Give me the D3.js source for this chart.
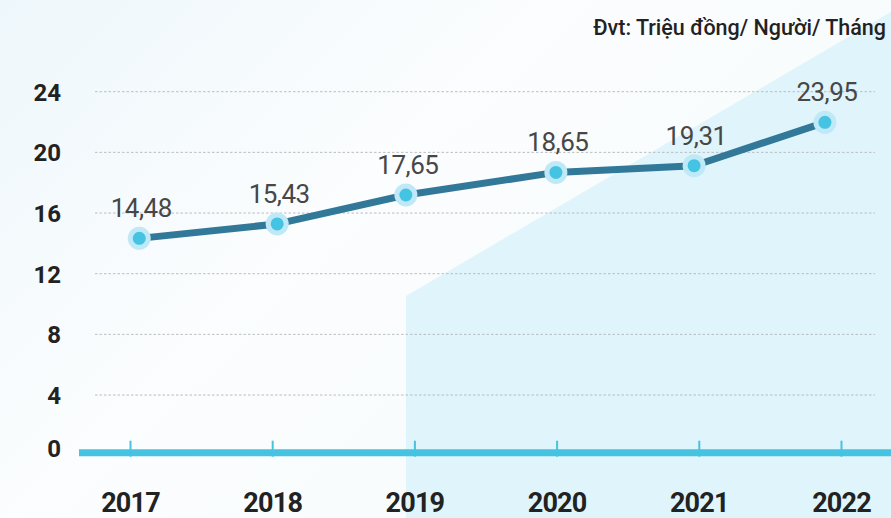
<!DOCTYPE html>
<html>
<head>
<meta charset="utf-8">
<script src="https://cdn.jsdelivr.net/npm/d3@7"></script>
<style>
  html, body { margin: 0; padding: 0; background: #ffffff; }
  svg { display: block; font-family: Roboto, "Noto Sans", sans-serif; }
</style>
</head>
<body>
<svg id="chart" width="891" height="518"></svg>
<script>
// ---- data ----
const years = [2017, 2018, 2019, 2020, 2021, 2022];
// where each marker sits along the year axis (as drawn in the picture)
const pointYears = [2017.065, 2018.035, 2018.94, 2019.995, 2020.967, 2021.887];
// plotted marker heights
const values = [14.33, 15.28, 17.19, 18.68, 19.12, 21.98];
// printed value labels
const valueLabels = ["14,48", "15,43", "17,65", "18,65", "19,31", "23,95"];
const yTicks = [0, 4, 8, 12, 16, 20, 24];
const unitText = "Đvt: Triệu đồng/ Người/ Tháng";

// ---- layout ----
const W = 891, H = 518;
const svg = d3.select("#chart");

const x = d3.scaleLinear().domain([2017, 2022]).range([130, 841]);
const y = d3.scaleLinear().domain([0, 24]).range([455.7, 91.7]);

// background
const defs = svg.append("defs");
const bg = defs.append("linearGradient").attr("id", "bg")
  .attr("x1", "0").attr("y1", "0").attr("x2", "1").attr("y2", "0.6");
bg.append("stop").attr("offset", "0").attr("stop-color", "#eef7fb");
bg.append("stop").attr("offset", "0.45").attr("stop-color", "#fbfdfe");
bg.append("stop").attr("offset", "1").attr("stop-color", "#f7fbfd");
svg.append("rect").attr("width", W).attr("height", H).attr("fill", "url(#bg)");

// light blue diagonal panel
svg.append("path")
  .attr("d", d3.line()([[406, 296], [891, 12], [891, H], [406, H]]) + "Z")
  .attr("fill", "#e0f4fb");

// gridlines
svg.append("g").selectAll("line")
  .data(yTicks.filter(d => d > 0))
  .join("line")
  .attr("x1", 95).attr("x2", 875)
  .attr("y1", d => y(d)).attr("y2", d => y(d))
  .attr("stroke", "#b9bec2").attr("stroke-width", 1)
  .attr("stroke-dasharray", "2.5,2");

// y axis labels
const yAxis = d3.axisLeft(y).tickValues(yTicks).tickSize(0).tickPadding(0);
const gy = svg.append("g").attr("transform", "translate(61,0)").call(yAxis);
gy.select(".domain").remove();
gy.selectAll("text")
  .attr("font-size", 24).attr("font-weight", 700).attr("fill", "#222")
  .attr("font-family", "Roboto, sans-serif")
  .attr("dy", d => d === 0 ? "0.05em" : "0.35em");

// baseline axis (thick cyan)
svg.append("line")
  .attr("x1", 79).attr("x2", W)
  .attr("y1", y(0) - 3).attr("y2", y(0) - 3)
  .attr("stroke", "#45c3e0").attr("stroke-width", 7);

const xAxis = d3.axisBottom(x).tickValues(years).tickFormat(d3.format("d"))
  .tickSizeInner(0).tickSizeOuter(0);
const gx = svg.append("g").attr("transform", `translate(0,${y(0) - 3})`).call(xAxis);
gx.select(".domain").remove();
gx.selectAll(".tick").append("line")
  .attr("y1", -12).attr("y2", 4)
  .attr("stroke", "#45c3e0").attr("stroke-width", 2);
gx.selectAll("text")
  .attr("y", 59).attr("dy", 0)
  .attr("font-size", 27).attr("font-weight", 700).attr("fill", "#222")
  .attr("letter-spacing", "-0.8px")
  .attr("font-family", "Roboto, sans-serif");

// line
const pts = values.map((v, i) => [x(pointYears[i]), y(v)]);
svg.append("path")
  .attr("d", d3.line()(pts))
  .attr("fill", "none")
  .attr("stroke", "#327898")
  .attr("stroke-width", 7)
  .attr("stroke-linejoin", "round");

// markers
const mk = svg.append("g").selectAll("g").data(pts).join("g")
  .attr("transform", d => `translate(${d[0]},${d[1]})`);
mk.append("circle").attr("r", 11.5).attr("fill", "#bfe9f6");
mk.append("circle").attr("r", 6.5).attr("fill", "#45c3e2");

// value labels
svg.append("g").selectAll("text").data(pts).join("text")
  .attr("x", d => d[0] + 2)
  .attr("y", d => d[1] - 21)
  .attr("text-anchor", "middle")
  .attr("font-size", 26).attr("font-weight", 400).attr("fill", "#474747")
  .attr("letter-spacing", "-0.5px")
  .text((d, i) => valueLabels[i]);

// unit text
svg.append("text")
  .attr("x", 886).attr("y", 35)
  .attr("text-anchor", "end")
  .attr("font-size", 21.5).attr("font-weight", 500).attr("fill", "#222")
  .text(unitText);
</script>
</body>
</html>
